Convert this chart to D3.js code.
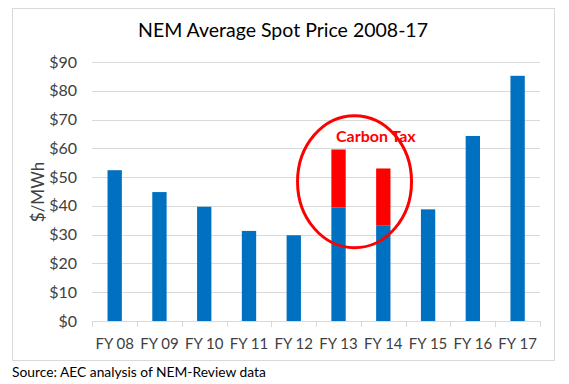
<!DOCTYPE html>
<html>
<head>
<meta charset="utf-8">
<script src="https://cdn.jsdelivr.net/npm/d3@7"></script>
<style>
  body { margin: 0; background: #fff; }
  text { font-family: Lato, "Open Sans", sans-serif; }
</style>
</head>
<body>
<svg id="chart" width="569" height="384"></svg>
<script>
var years = ["FY 08", "FY 09", "FY 10", "FY 11", "FY 12", "FY 13", "FY 14", "FY 15", "FY 16", "FY 17"];
var basePrice = [52.4, 44.8, 39.7, 31.3, 29.8, 39.5, 33.1, 38.8, 64.3, 85.2];
var carbonTax = [0, 0, 0, 0, 0, 20.1, 19.9, 0, 0, 0];
var yTicks = [0, 10, 20, 30, 40, 50, 60, 70, 80, 90];

var svg = d3.select('svg#chart');

// chart frame
svg.append('rect')
  .attr('x', 12.5).attr('y', 8.5)
  .attr('width', 542).attr('height', 352)
  .attr('fill', '#fff')
  .attr('stroke', '#d9d9d9');

var x = d3.scaleBand()
  .domain(years)
  .range([92.3, 540])
  .paddingInner(0.68)
  .paddingOuter(0.34);

var y = d3.scaleLinear()
  .domain([0, 90])
  .range([321, 62]);

// gridlines
svg.selectAll('line.grid').data(yTicks.slice(1)).enter().append('line')
  .attr('class', 'grid')
  .attr('x1', 92).attr('x2', 540)
  .attr('y1', d => Math.round(y(d)) + 0.5)
  .attr('y2', d => Math.round(y(d)) + 0.5)
  .attr('stroke', '#d9d9d9')
  .attr('stroke-width', 1);

// y labels
svg.selectAll('text.ylab').data(yTicks).enter().append('text')
  .attr('class', 'ylab')
  .attr('x', 77)
  .attr('y', d => y(d) + 5.5)
  .attr('text-anchor', 'end')
  .attr('font-size', 16)
  .attr('fill', '#404040')
  .text(d => '$' + d);

// bars
var gs = svg.selectAll('g.bar').data(years).enter().append('g').attr('class', 'bar');
gs.append('rect')
  .attr('x', d => x(d))
  .attr('width', x.bandwidth())
  .attr('y', (d, i) => y(basePrice[i]))
  .attr('height', (d, i) => y(0) - y(basePrice[i]))
  .attr('fill', '#0070c0');
gs.filter((d, i) => carbonTax[i] > 0).append('rect')
  .attr('x', d => x(d))
  .attr('width', x.bandwidth())
  .attr('y', d => { var i = years.indexOf(d); return y(basePrice[i] + carbonTax[i]); })
  .attr('height', d => { var i = years.indexOf(d); return y(basePrice[i]) - y(basePrice[i] + carbonTax[i]); })
  .attr('fill', '#ff0000');

// x axis line + ticks
var step = x.step();
svg.append('line')
  .attr('x1', 92).attr('x2', 540)
  .attr('y1', y(0) + 0.5).attr('y2', y(0) + 0.5)
  .attr('stroke', '#d9d9d9');
svg.selectAll('line.xtick').data(d3.range(years.length + 1)).enter().append('line')
  .attr('class', 'xtick')
  .attr('x1', i => Math.round(92.3 + i * step) + 0.5)
  .attr('x2', i => Math.round(92.3 + i * step) + 0.5)
  .attr('y1', y(0)).attr('y2', y(0) + 6)
  .attr('stroke', '#d9d9d9');

svg.selectAll('text.xlab').data(years).enter().append('text')
  .attr('class', 'xlab')
  .attr('x', d => x(d) + x.bandwidth() / 2)
  .attr('y', 349)
  .attr('text-anchor', 'middle')
  .attr('font-size', 15)
  .attr('fill', '#404040')
  .text(d => d);

// y axis title
svg.append('text')
  .attr('transform', 'translate(44,192) rotate(-90)')
  .attr('text-anchor', 'middle')
  .attr('font-size', 17)
  .attr('fill', '#404040')
  .text('$/MWh');

// title
svg.append('text')
  .attr('x', 283).attr('y', 37)
  .attr('text-anchor', 'middle')
  .attr('font-size', 19.5)
  .attr('fill', '#000')
  .text('NEM Average Spot Price 2008-17');

// carbon tax annotation
svg.append('ellipse')
  .attr('cx', x('FY 13') + x.bandwidth() / 2 + 16)
  .attr('cy', y(48.4))
  .attr('rx', 57)
  .attr('ry', 66)
  .attr('fill', 'none')
  .attr('stroke', '#ff0000')
  .attr('stroke-width', 3);
svg.append('text')
  .attr('x', 336).attr('y', 142)
  .attr('font-size', 16)
  .attr('font-weight', 'bold')
  .attr('fill', '#ff0000')
  .text('Carbon Tax');

// source
svg.append('text')
  .attr('x', 12).attr('y', 377)
  .attr('font-size', 13.8)
  .attr('fill', '#000')
  .text('Source: AEC analysis of NEM-Review data');
</script>
</body>
</html>
